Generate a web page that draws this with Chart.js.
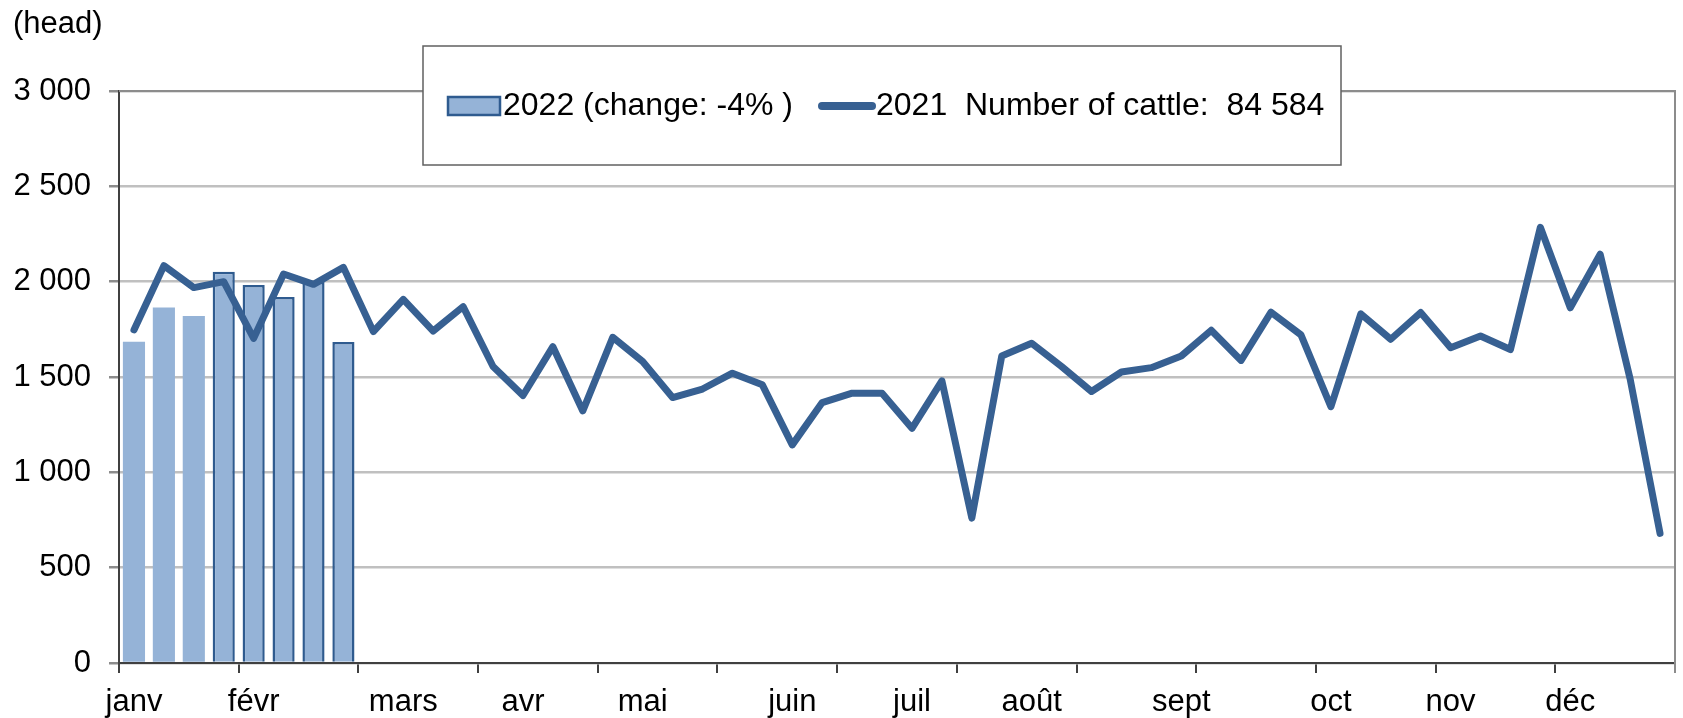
<!DOCTYPE html>
<html>
<head>
<meta charset="utf-8">
<script src="https://cdn.jsdelivr.net/npm/chart.js@4/dist/chart.umd.min.js"></script>
<style>
  body { margin: 0; background: #fff; }
  #wrap { width: 1683px; height: 718px; }
</style>
</head>
<body>
<div id="wrap"><canvas id="cattle_chart"></canvas></div>
<script>
// weekly slaughter figures, 52 weeks
var weeks = Array.from({ length: 52 }, (_, i) => 'S' + (i + 1))
var monthNames = ['janv', 'févr', 'mars', 'avr', 'mai', 'juin', 'juil', 'août', 'sept', 'oct', 'nov', 'déc']
var monthStartWeek = [0, 4, 9, 13, 17, 22, 26, 30, 35, 40, 44, 48]
var yTicks = [0, 500, 1000, 1500, 2000, 2500, 3000]

var heads2022 = [1685, 1865, 1820, 2052, 1983, 1920, 1998, 1684]
var heads2021 = [
    1747, 2084, 1969, 2000, 1703, 2040, 1986, 2075, 1738, 1907, 1741, 1869, 1555,
    1403, 1659, 1322, 1708, 1581, 1392, 1437, 1520, 1459, 1144, 1366, 1415, 1415,
    1231, 1480, 760, 1610, 1677, 1555, 1424, 1526, 1549, 1610, 1745, 1587, 1840,
    1721, 1344, 1831, 1698, 1838, 1654, 1715, 1644, 2285, 1863, 2144, 1490, 680
]

var label2022 = '2022 (change: -4% )'
var label2021 = '2021  Number of cattle:  84 584'

var FONT = "'Liberation Sans', Arial, sans-serif"
var barFill = '#95B3D7'
var barEdge = '#2F5B8F'
var lineBlue = '#376092'

function fmt(v) {
    return String(v).replace(/\B(?=(\d{3})+(?!\d))/g, ' ')
}

// plot frame, unit label and boxed legend
var extras = {
    id: 'extras',
    beforeDatasetsDraw(chart) {
        var a = chart.chartArea
        var ctx = chart.ctx
        ctx.save()
        ctx.strokeStyle = '#8C8C8C'
        ctx.lineWidth = 2
        ctx.beginPath()
        ctx.moveTo(a.left, a.top)
        ctx.lineTo(a.right, a.top)
        ctx.lineTo(a.right, a.bottom + 10)
        ctx.stroke()
        ctx.restore()
    },
    afterDraw(chart) {
        var ctx = chart.ctx
        var ds = chart.data.datasets
        ctx.save()
        ctx.fillStyle = '#000'
        ctx.font = '31px ' + FONT
        ctx.textBaseline = 'middle'
        ctx.fillText('(head)', 13, 24)

        // legend box
        ctx.fillStyle = '#fff'
        ctx.fillRect(423, 46, 918, 119)
        ctx.strokeStyle = '#606060'
        ctx.lineWidth = 1.5
        ctx.strokeRect(423, 46, 918, 119)

        ctx.fillStyle = barFill
        ctx.fillRect(448, 97, 52, 18)
        ctx.strokeStyle = barEdge
        ctx.lineWidth = 2.5
        ctx.strokeRect(448, 97, 52, 18)

        ctx.font = '32px ' + FONT
        ctx.fillStyle = '#000'
        ctx.fillText(ds[0].label, 503, 106)

        ctx.strokeStyle = lineBlue
        ctx.lineWidth = 8
        ctx.lineCap = 'round'
        ctx.beginPath()
        ctx.moveTo(822, 106)
        ctx.lineTo(872, 106)
        ctx.stroke()
        ctx.fillText(ds[1].label, 876, 106)
        ctx.restore()
    }
}

var ctx = document.getElementById('cattle_chart').getContext('2d')
var myChart = new Chart(ctx, {
    type: 'bar',
    data: {
        labels: weeks,
        datasets: [{
            type: 'bar',
            label: label2022,
            data: heads2022,
            backgroundColor: barFill,
            borderColor: barEdge,
            borderWidth: c => c.dataIndex < 3 ? 0 : 2.5,
            barPercentage: 0.74,
            categoryPercentage: 1,
            order: 1
        }, {
            type: 'line',
            label: label2021,
            data: heads2021,
            borderColor: lineBlue,
            borderWidth: 7,
            pointRadius: 0,
            tension: 0,
            borderJoinStyle: 'round',
            borderCapStyle: 'round',
            fill: false,
            order: 0
        }]
    },
    options: {
        responsive: true,
        maintainAspectRatio: false,
        animation: false,
        layout: { padding: { left: 13, right: 8, top: 91, bottom: 0 } },
        plugins: {
            legend: { display: false },
            tooltip: { enabled: false }
        },
        scales: {
            x: {
                offset: true,
                ticks: {
                    autoSkip: false,
                    maxRotation: 0,
                    padding: 11,
                    color: '#000',
                    font: { family: FONT, size: 31 },
                    callback: (v, i) => {
                        var k = monthStartWeek.indexOf(i)
                        return k >= 0 ? monthNames[k] : ''
                    }
                },
                grid: {
                    offset: true,
                    drawOnChartArea: false,
                    tickLength: 10,
                    lineWidth: 2,
                    color: c => (c.index === undefined || c.index % 4 === 0) ? '#404040' : 'rgba(0,0,0,0)'
                },
                border: { color: '#404040', width: 2 },
                afterFit: s => { s.height = 55 }
            },
            y: {
                min: 0,
                max: 3000,
                afterBuildTicks: s => { s.ticks = yTicks.map(v => ({ value: v })) },
                ticks: {
                    padding: 18,
                    color: '#000',
                    font: { family: FONT, size: 31 },
                    callback: v => fmt(v)
                },
                grid: {
                    color: '#C0C0C0',
                    lineWidth: 2.5,
                    tickLength: 10,
                    tickColor: '#8C8C8C'
                },
                border: { color: '#404040', width: 2 },
                afterFit: s => { s.width = 106 }
            }
        }
    },
    plugins: [extras]
})
</script>
</body>
</html>
